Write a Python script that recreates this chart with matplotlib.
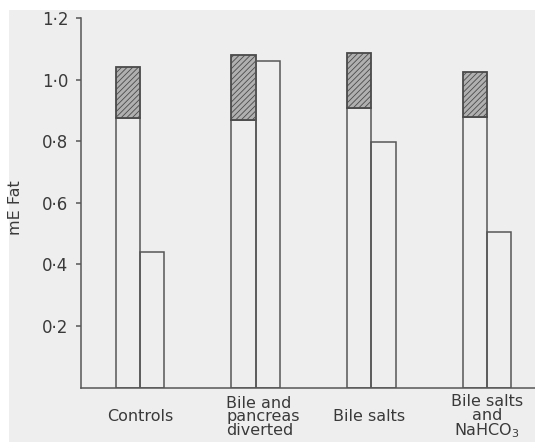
import numpy as np
import matplotlib.pyplot as plt
from matplotlib.patches import Rectangle

plt.rcParams['font.family'] = ['DejaVu Sans']
plt.rcParams['hatch.color'] = '#5a5a5a'
plt.rcParams['hatch.linewidth'] = 0.6

categories = ['Controls', 'Bile and\npancreas\ndiverted', 'Bile salts',
              'Bile salts\nand\nNaHCO$_3$']
lower_part = [0.876, 0.868, 0.909, 0.880]    # open part of first bar
total_fat = [1.042, 1.080, 1.086, 1.026]     # top of hatched part
second_bar = [0.440, 1.061, 0.799, 0.505]
yticks = [0.2, 0.4, 0.6, 0.8, 1.0, 1.2]
ytick_labels = ['0·2', '0·4', '0·6', '0·8', '1·0', '1·2']

paper = '#eeeeee'
ink = '#565656'
text_col = '#3a3a3a'

fig = plt.figure(figsize=(5.35, 4.42), dpi=100, facecolor=paper)
# white strips along the top and left edge
fig.patches.append(Rectangle((0, 1 - 10 / 442), 1, 10 / 442, transform=fig.transFigure,
                             facecolor='white', edgecolor='none', zorder=0))
fig.patches.append(Rectangle((0, 0), 9 / 535, 1, transform=fig.transFigure,
                             facecolor='white', edgecolor='none', zorder=0))

ax = fig.add_axes([81 / 535, 1 - 387.7 / 442, 1 - 81 / 535, (387.7 - 18) / 442])
ax.set_facecolor('none')

x = np.arange(len(categories))
w = 0.21
hatched = [t - l for t, l in zip(total_fat, lower_part)]

# left bar: open lower part with hatched cap, right bar: open
ax.bar(x - w, lower_part, width=w, align='edge', facecolor='none',
       edgecolor=ink, linewidth=1.1)
ax.bar(x - w, hatched, width=w, align='edge', bottom=lower_part,
       facecolor='#b0b0b0', edgecolor='#4a4a4a', hatch='//////', linewidth=1.3)
ax.bar(x, second_bar, width=w, align='edge', facecolor='none',
       edgecolor=ink, linewidth=1.1)

ax.set_xlim(-0.51, 3.414)
ax.set_ylim(0, 1.2)

for s in ['top', 'right']:
    ax.spines[s].set_visible(False)
for s in ['left', 'bottom']:
    ax.spines[s].set_color(ink)
    ax.spines[s].set_linewidth(1.1)

ax.set_yticks(yticks)
ax.set_yticklabels(ytick_labels, fontsize=12, color=text_col)
ax.tick_params(axis='y', length=3.6, width=1.1, color=ink, pad=5.5)
ax.set_xticks([])

label_x = [0, 1.063, 1.98, 3.0]
label_align = ['center', 'left', 'center', 'center']
for lx, name, al in zip(label_x, categories, label_align):
    ax.text(lx, -0.079, name, transform=ax.get_xaxis_transform(), ha='center',
            va='center', multialignment=al, fontsize=11.5, color=text_col,
            linespacing=0.9)

fig.text(16 / 535, 1 - 208 / 442, 'mE Fat', rotation=90, ha='center', va='center',
         fontsize=11.5, color=text_col)

fig.savefig('out.png', dpi=100, facecolor=paper)
